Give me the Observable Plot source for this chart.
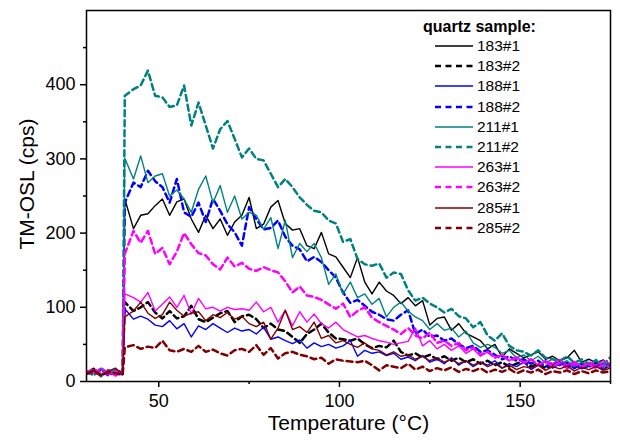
<!DOCTYPE html>
<html>
<head>
<meta charset="utf-8">
<script src="https://cdn.jsdelivr.net/npm/d3@7"></script>
<script src="https://cdn.jsdelivr.net/npm/@observablehq/plot@0.6"></script>
<style>
  body { margin: 0; background: #fff; }
  #wrap { position: relative; width: 620px; height: 441px; font-family: Arial, "Liberation Sans", sans-serif; color: #000; }
  #wrap svg.plot { position: absolute; left: 0; top: 0; }
  .lg { position: absolute; white-space: nowrap; }
  #ytitle { position: absolute; left: 27px; top: 184px; transform: translate(-50%, -50%) rotate(-90deg); font-size: 21px; line-height: 24px; white-space: nowrap; }
</style>
</head>
<body>
<div id="wrap"></div>
<script>
// Temperature grid (°C)
const temps = [30,32,34,36,38,40,40.6,
  43,45,47,49,51,53,55,57,59,61,
  63,65,67,69,71,73,75,77,79,81,
  83,85,87,89,91,93,95,97,99,101,
  103,105,107,109,111,113,115,117,119,121,
  123,125,127,129,131,133,135,137,139,141,
  143,145,147,149,151,153,155,157,159,161,
  163,165,167,169,171,173,175];

// TM-OSL counts (cps) per sample
const s183_1 = [12,18,9,15,10,13,
  246,
  206,224,226,237,246,224,242,246,219,201,
  224,206,219,197,215,224,248,206,212,235,
  244,213,204,206,183,179,201,172,168,154,
  140,167,134,118,134,122,116,105,113,102,
  109,76,85,87,69,78,65,60,55,44,
  50,33,44,38,32,36,40,30,34,28,
  32,42,26,30,25,29,22];
const s183_2 = [13,9,16,11,14,10,
  107,
  95,100,107,93,85,95,85,88,102,84,
  80,86,92,95,80,88,90,84,72,78,
  70,68,60,52,64,70,78,66,58,57,
  55,58,50,45,48,46,55,40,35,38,
  32,36,30,34,28,32,26,30,24,28,
  22,26,20,24,28,20,24,18,22,26,
  19,23,18,21,24,18,21];
const s188_1 = [10,14,8,16,11,9,
  98,
  84,88,84,76,74,82,71,78,60,75,
  70,78,72,66,72,68,70,64,73,57,
  60,55,51,56,45,52,47,50,45,48,
  55,34,42,38,40,35,38,30,33,28,
  35,26,30,24,32,22,28,20,26,22,
  28,18,24,20,26,16,22,28,18,24,
  20,26,17,22,19,25,20];
const s188_2 = [14,10,17,8,13,11,
  241,
  268,262,284,270,262,241,273,228,222,241,
  215,246,230,212,201,183,235,219,205,207,
  217,195,183,178,162,168,161,150,140,120,
  106,110,102,94,90,84,82,90,96,64,
  70,60,62,55,58,50,45,48,40,42,
  36,30,34,28,30,24,28,20,26,22,
  25,18,24,20,23,17,22];
const s211_1 = [10,16,6,14,9,12,
  301,
  273,304,268,277,280,250,258,246,228,259,
  277,241,264,228,250,219,228,224,205,221,
  179,217,167,186,175,186,167,131,145,118,
  134,113,118,104,112,87,100,107,95,87,
  82,70,78,69,72,60,68,52,46,50,
  46,38,42,32,36,28,34,25,30,24,
  28,20,26,22,30,18,25];
const s211_2 = [14,8,18,11,16,12,
  385,
  394,399,419,385,383,370,372,399,345,376,
  345,314,340,351,327,302,314,300,298,280,
  262,273,262,248,238,230,228,217,213,188,
  192,165,158,156,159,140,147,145,123,109,
  113,105,100,93,98,88,85,73,80,62,
  55,65,48,42,40,35,42,32,30,28,
  34,25,30,24,28,22,33];
const s263_1 = [15,11,18,9,14,12,
  118,
  113,107,120,95,104,114,100,116,91,112,
  98,100,95,100,97,98,96,107,94,100,
  80,96,75,94,80,91,78,72,80,70,
  65,60,62,58,55,53,50,52,54,72,
  48,55,44,50,42,48,38,44,34,40,
  32,36,28,33,26,30,22,28,24,30,
  22,27,20,26,22,28,24];
const s263_2 = [12,17,10,15,8,13,
  172,
  203,187,203,172,180,158,175,200,185,173,
  170,158,151,167,155,160,152,149,154,150,
  147,135,120,128,116,114,110,104,98,105,
  87,95,100,86,80,75,70,64,72,62,
  58,66,52,55,48,52,42,46,36,40,
  32,36,28,32,25,30,22,27,20,25,
  18,24,20,23,18,22,19];
const s285_1 = [11,16,9,14,18,10,
  87,
  95,107,92,85,90,107,96,88,92,94,
  82,90,86,93,84,88,78,74,80,57,
  72,96,70,74,66,80,58,62,52,55,
  50,46,52,44,42,36,40,34,36,30,
  34,28,32,26,30,24,28,22,26,20,
  24,18,22,16,20,18,22,15,20,17,
  21,14,19,16,20,15,18];
const s285_2 = [10,14,8,13,11,9,
  46,
  49,44,47,45,55,42,40,44,40,48,
  40,43,38,35,42,44,40,49,36,45,
  31,38,40,36,34,30,32,24,30,28,
  27,26,28,22,15,22,20,18,24,16,
  20,14,18,15,19,13,17,14,18,12,
  16,13,17,11,15,12,16,10,14,12,
  15,10,14,11,15,12,14];

const names  = ["183#1","183#2","188#1","188#2","211#1","211#2","263#1","263#2","285#1","285#2"];
const values = [s183_1,s183_2,s188_1,s188_2,s211_1,s211_2,s263_1,s263_2,s285_1,s285_2];
const colors = ["#000000","#000000","#0000ff","#0000ff","#008080","#008080","#ff00ff","#ff00ff","#800000","#800000"];
const dashed = [false,true,false,true,false,true,false,true,false,true];

const xMajor = [50,100,150];
const xMinor = [75,125,175];
const yMajor = [0,100,200,300,400];
const yMinor = [50,150,250,350,450];
const legendTitle = "quartz sample:";
const xTitle = "Temperature (\u00B0C)";
const yTitle = "TM-OSL (cps)";

const FONT = 'Arial, "Liberation Sans", sans-serif';

const lineMarks = values.map((vals, k) => Plot.line(
  temps.map((T, i) => ({T, v: vals[i]})),
  {x: "T", y: "v", stroke: colors[k],
   strokeWidth: dashed[k] ? 2.5 : 1.4,
   strokeDasharray: dashed[k] ? "6,4" : null,
   strokeLinejoin: "round", clip: true}
));

const chart = Plot.plot({
  width: 620, height: 441,
  marginLeft: 86, marginRight: 10, marginTop: 10, marginBottom: 60,
  x: {domain: [30, 175], label: null},
  y: {domain: [0, 500], label: null},
  style: {fontFamily: FONT, fontSize: "18px", color: "#000", background: "#fff", overflow: "visible"},
  marks: [
    ...lineMarks,
    Plot.frame({stroke: "#000", strokeWidth: 1.5}),
    Plot.axisX({ticks: xMajor, tickSize: 6, tickPadding: 7, fontSize: 18, strokeWidth: 1.5, label: null}),
    Plot.axisX({ticks: xMinor, tickSize: 3, tickFormat: () => "", strokeWidth: 1.5, label: null}),
    Plot.axisY({ticks: yMajor, tickSize: 6, tickPadding: 5, fontSize: 18, strokeWidth: 1.5, label: null}),
    Plot.axisY({ticks: yMinor, tickSize: 3, tickFormat: () => "", strokeWidth: 1.5, label: null}),
    Plot.text([xTitle], {frameAnchor: "bottom", dy: 48, fontSize: 21, fill: "#000"})
  ]
});

const wrap = document.getElementById("wrap");
wrap.appendChild(chart);

const yt = document.createElement("div");
yt.id = "ytitle";
yt.textContent = yTitle;
wrap.appendChild(yt);

// Legend (inside the plot, top right)
const t = document.createElement("div");
t.className = "lg";
t.style.cssText = "left:423px;top:17px;font-weight:bold;font-size:16px;line-height:20px;";
t.textContent = legendTitle;
wrap.appendChild(t);
names.forEach((name, k) => {
  const cy = 46 + 20.2 * k;
  const ns = "http://www.w3.org/2000/svg";
  const sv = document.createElementNS(ns, "svg");
  sv.setAttribute("width", 40); sv.setAttribute("height", 20);
  sv.style.cssText = `position:absolute;left:434px;top:${cy - 10}px;`;
  const ln = document.createElementNS(ns, "line");
  ln.setAttribute("x1", 1); ln.setAttribute("x2", 39);
  ln.setAttribute("y1", 10); ln.setAttribute("y2", 10);
  ln.setAttribute("stroke", colors[k]);
  ln.setAttribute("stroke-width", dashed[k] ? 2.5 : 1.5);
  if (dashed[k]) ln.setAttribute("stroke-dasharray", "6,4.5");
  sv.appendChild(ln);
  wrap.appendChild(sv);
  const lab = document.createElement("div");
  lab.className = "lg";
  lab.style.cssText = `left:477px;top:${cy - 10}px;font-size:15.5px;line-height:20px;`;
  lab.textContent = name;
  wrap.appendChild(lab);
});
</script>
</body>
</html>
